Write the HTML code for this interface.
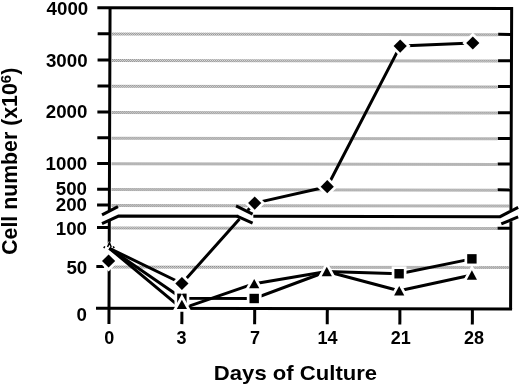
<!DOCTYPE html>
<html><head><meta charset="utf-8"><title>Cell number vs Days of Culture</title>
<style>
html,body{margin:0;padding:0;background:#fff;}
body{width:520px;height:387px;overflow:hidden;position:relative;font-family:"Liberation Sans",sans-serif;}
svg{display:block;position:absolute;left:0;top:0;}
text{font-family:"Liberation Sans",sans-serif;font-weight:bold;fill:#000;}
</style></head><body>
<svg width="520" height="387" viewBox="0 0 520 387">
<defs><pattern id="g" width="2" height="2" patternUnits="userSpaceOnUse"><rect width="2" height="2" fill="#dedede"/><rect width="1" height="1" fill="#8c8c8c"/><rect x="1" y="1" width="1" height="1" fill="#8c8c8c"/></pattern></defs>
<rect width="520" height="387" fill="#fff"/>
<g transform="matrix(1 0.0017 -0.0035 1 1.0787 -0.1853)">
<rect x="111" y="32.6" width="386" height="3" fill="url(#g)"/>
<rect x="111" y="58.9" width="386" height="3" fill="url(#g)"/>
<rect x="111" y="84.8" width="386" height="3" fill="url(#g)"/>
<rect x="111" y="110.9" width="386" height="3" fill="url(#g)"/>
<rect x="111" y="136.7" width="386" height="3" fill="url(#g)"/>
<rect x="111" y="162.3" width="386" height="3" fill="url(#g)"/>
<rect x="111" y="188.1" width="386" height="3" fill="url(#g)"/>
<rect x="111" y="203.9" width="398" height="3" fill="url(#g)"/>
<rect x="111" y="226.4" width="386" height="3" fill="url(#g)"/>
<rect x="111" y="265.4" width="398" height="3" fill="url(#g)"/>
<g stroke="#000" stroke-width="3.0" fill="none" stroke-linecap="butt">
<path d="M96.3 7.8 H510.6 V209.5 M510.6 220.5 V308.2"/>
<path d="M109.0 7.8 V210 M109.0 221 V324"/>
<path d="M96 308.2 H512.1"/>
<path d="M96.7 33.7 H109.0"/>
<path d="M96.7 60.0 H109.0"/>
<path d="M96.7 85.9 H109.0"/>
<path d="M96.7 112.0 H109.0"/>
<path d="M96.7 137.8 H109.0"/>
<path d="M96.7 163.4 H109.0"/>
<path d="M96.7 189.2 H109.0"/>
<path d="M96.7 204.9 H109.0"/>
<path d="M96.7 227.5 H109.0"/>
<path d="M96.2 266.4 H104"/>
<path d="M497.2 33.7 H510.6"/>
<path d="M497.2 60.0 H510.6"/>
<path d="M497.2 85.9 H510.6"/>
<path d="M497.2 112.0 H510.6"/>
<path d="M497.2 137.8 H510.6"/>
<path d="M497.2 163.4 H510.6"/>
<path d="M497.2 189.2 H510.6"/>
<path d="M497.2 227.5 H510.6"/>
<path d="M181.9 308.2 V324"/>
<path d="M254.7 308.2 V324"/>
<path d="M327.3 308.2 V324"/>
<path d="M399.9 308.2 V324"/>
<path d="M472.4 308.2 V324"/>
<path d="M101.7 214.9 L117.6 206.6 M101.7 223.6 L118.2 216.0 H238 M253 216.0 H499.8 L517.8 206.6 M501 223.2 L517.8 216.2"/>
<path d="M235.7 205.7 L252.3 213.8 M236.6 216.0 L252.3 223"/>
</g>
</g>
<path d="M109.4 242.6 L115.6 253 L103.2 253 Z" fill="#fff" stroke="#fff" stroke-width="2.5" stroke-linejoin="round"/>
<g stroke="#000" stroke-width="1.5" fill="none"><path d="M107.6 247.0 L109.4 242.6 L111.2 247.0 M103.8 248.2 L104.8 246.4 M114.2 248.2 L113.2 246.4"/></g>
<g stroke="#000" stroke-width="3.0" fill="none" stroke-linejoin="round">
<path d="M109.4 248.3 L181.9 298.3 L254.2 298.5 L326.8 271.5 L399.1 273.75 L471.9 258.85"/>
<path d="M109.4 248.3 L181.9 308.6 L254.2 283.7 L326.8 271.5 L399.2 290.75 L471.9 275.0"/>
<path d="M109.4 248.3 L181.9 283.5 L239.5 219"/>
<path d="M247.8 210.3 L254.7 203.1 L327.25 186.7 L400.2 46.1 L472.8 43.0"/>
</g>
<g fill="#000" stroke="#fff" stroke-width="5.4" paint-order="stroke" stroke-linejoin="miter">
<rect x="177.20" y="293.60" width="9.4" height="9.4"/>
<rect x="249.50" y="293.80" width="9.4" height="9.4"/>
<rect x="394.40" y="269.05" width="9.4" height="9.4"/>
<rect x="467.20" y="254.15" width="9.4" height="9.4"/>
<path d="M181.9 299.65 L187.0 308.95 L176.8 308.95 Z"/>
<path d="M254.2 279.05 L259.3 288.35 L249.1 288.35 Z"/>
<path d="M326.8 266.85 L331.90000000000003 276.15 L321.7 276.15 Z"/>
<path d="M399.2 286.10 L404.3 295.40 L394.09999999999997 295.40 Z"/>
<path d="M471.9 270.35 L477.0 279.65 L466.79999999999995 279.65 Z"/>
<path d="M108.6 254.4 L115.19999999999999 261.0 L108.6 267.6 L102.0 261.0 Z"/>
<path d="M181.9 276.9 L188.5 283.5 L181.9 290.1 L175.3 283.5 Z"/>
<path d="M254.7 196.5 L261.3 203.1 L254.7 209.7 L248.1 203.1 Z"/>
<path d="M327.25 180.1 L333.85 186.7 L327.25 193.29999999999998 L320.65 186.7 Z"/>
<path d="M400.2 39.5 L406.8 46.1 L400.2 52.7 L393.59999999999997 46.1 Z"/>
<path d="M472.8 36.4 L479.40000000000003 43.0 L472.8 49.6 L466.2 43.0 Z"/>
</g>
<g font-size="18" text-anchor="end">
<text transform="translate(88.2 14.9) scale(1.04 1)">4000</text>
<text transform="translate(87.6 66.6) scale(1.04 1)">3000</text>
<text transform="translate(87.4 118.0) scale(1.04 1)">2000</text>
<text transform="translate(87.2 170.3) scale(1.04 1)">1000</text>
<text transform="translate(87.0 195.0) scale(1.04 1)">500</text>
<text transform="translate(87.0 210.8) scale(1.04 1)">200</text>
<text transform="translate(87.0 234.5) scale(1.04 1)">100</text>
<text transform="translate(87.2 274.2) scale(1.04 1)">50</text>
<text transform="translate(87.0 321.3) scale(1.04 1)">0</text>
</g>
<g font-size="18" text-anchor="middle">
<text x="109.3" y="344.1">0</text>
<text x="181.5" y="344.1">3</text>
<text x="255.0" y="344.1">7</text>
<text x="327.6" y="344.1">14</text>
<text x="400.8" y="344.1">21</text>
<text x="473.9" y="344.1">28</text>
</g>
<text transform="translate(295.5 380.2) scale(1 0.95)" font-size="22.1" text-anchor="middle">Days of Culture</text>
<text transform="translate(17.3 161.3) rotate(-90)" font-size="21.3" text-anchor="middle">Cell number (x10<tspan font-size="15" dy="-6.6">6</tspan><tspan dy="6.6">)</tspan></text>
</svg>
</body></html>
